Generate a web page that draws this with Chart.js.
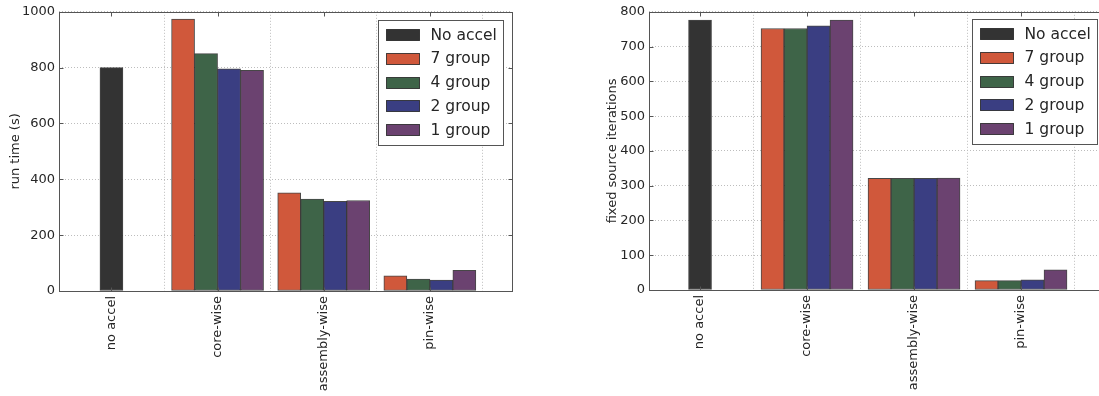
<!DOCTYPE html>
<html>
<head>
<meta charset="utf-8">
<script src="https://cdn.jsdelivr.net/npm/chart.js@4/dist/chart.umd.min.js"></script>
<style>
  html, body { margin: 0; padding: 0; background: #fff; width: 1099px; height: 396px; overflow: hidden; position: relative; }
  canvas { position: absolute; top: 0; }
  #runTime { left: 0; }
  #iterations { left: 560px; }
</style>
</head>
<body>
<canvas id="runTime" width="550" height="396"></canvas>
<canvas id="iterations" width="560" height="396"></canvas>
<script>
// Acceleration schemes along the x axis and the group structures compared
const categories = ['no accel', 'core-wise', 'assembly-wise', 'pin-wise'];
const seriesNames = ['No accel', '7 group', '4 group', '2 group', '1 group'];

// Run time in seconds
const runNoAccel = [800, null, null, null];
const run7group  = [null, 974, 352, 54];
const run4group  = [null, 850, 329, 43];
const run2group  = [null, 796, 321, 39];
const run1group  = [null, 790, 324, 74];
const runTicks   = [0, 200, 400, 600, 800, 1000];

// Number of fixed source iterations
const itNoAccel = [776, null, null, null];
const it7group  = [null, 752, 321, 27];
const it4group  = [null, 752, 321, 27];
const it2group  = [null, 760, 321, 29];
const it1group  = [null, 776, 322, 58];
const itTicks   = [0, 100, 200, 300, 400, 500, 600, 700, 800];

const seriesColors = ['#333333', '#d0583b', '#3e6448', '#3a3e82', '#6b4270'];
const FONT = 'DejaVu Sans';
const TEXT = '#262626';

// Box around the plot area with inward tick marks on all four sides
const framePlugin = {
  id: 'frame',
  afterDatasetsDraw(chart) {
    const { ctx, chartArea: a, scales } = chart;
    const L = Math.round(a.left) + 0.5, R = Math.round(a.right) + 0.5;
    const T = Math.round(a.top) + 0.5, B = Math.round(a.bottom) + 0.5;
    const len = 4;
    ctx.save();
    ctx.strokeStyle = '#555555';
    ctx.lineWidth = 1;
    ctx.beginPath();
    scales.y.ticks.forEach(t => {
      const y = Math.round(scales.y.getPixelForValue(t.value)) + 0.5;
      ctx.moveTo(L, y); ctx.lineTo(L + len, y);
      ctx.moveTo(R, y); ctx.lineTo(R - len, y);
    });
    scales.x.ticks.forEach(t => {
      const x = Math.round(scales.x.getPixelForValue(t.value)) + 0.5;
      ctx.moveTo(x, T); ctx.lineTo(x, T + len);
      ctx.moveTo(x, B); ctx.lineTo(x, B - len);
    });
    ctx.stroke();
    ctx.strokeRect(L, T, R - L, B - T);
    ctx.restore();
  }
};

// Boxed legend in the upper right corner of the plot area
const boxLegendPlugin = {
  id: 'boxLegend',
  afterDraw(chart, args, opts) {
    const { ctx, chartArea: a } = chart;
    const sets = chart.data.datasets;
    const size = 15.5;
    ctx.save();
    ctx.font = size + 'px "' + FONT + '"';
    const textW = Math.max(...sets.map(d => ctx.measureText(d.label).width));
    const padX = 7, swW = 33, swH = 11, gap = 12, rowH = 23.75, firstRow = 14;
    const w = Math.round(padX + swW + gap + textW + padX);
    const h = Math.round(firstRow + rowH * (sets.length - 1) + 16);
    const x0 = Math.round(a.right - opts.insetRight - w) + 0.5;
    const y0 = Math.round(a.top + opts.insetTop) + 0.5;
    ctx.fillStyle = '#ffffff';
    ctx.fillRect(x0, y0, w, h);
    ctx.strokeStyle = '#555555';
    ctx.lineWidth = 1;
    ctx.strokeRect(x0, y0, w, h);
    sets.forEach((d, i) => {
      const cy = y0 + firstRow + i * rowH;
      const sx = Math.round(x0 + padX) + 0.5, sy = Math.round(cy - swH / 2) + 0.5;
      ctx.fillStyle = d.backgroundColor;
      ctx.fillRect(sx, sy, swW, swH);
      ctx.strokeStyle = 'rgba(30,30,30,0.8)';
      ctx.strokeRect(sx, sy, swW, swH);
      ctx.fillStyle = TEXT;
      ctx.textBaseline = 'middle';
      ctx.textAlign = 'left';
      ctx.fillText(d.label, x0 + padX + swW + gap, cy + 1);
    });
    ctx.restore();
  }
};

function makeChart(id, cfg) {
  const datasets = cfg.series.map((vals, k) => ({
    label: seriesNames[k],
    data: categories.map((c, i) => ({ x: i, y: vals[i] })),
    backgroundColor: seriesColors[k],
    borderColor: 'rgba(25,25,25,0.8)',
    borderWidth: 1,
    borderSkipped: false,
    barThickness: 23,
    skipNull: true
  }));
  const gridCommon = { color: '#bdbdbd', lineWidth: 1, drawTicks: false };
  return new Chart(document.getElementById(id), {
    type: 'bar',
    data: { datasets },
    options: {
      responsive: false,
      animation: false,
      layout: { padding: { top: 10, right: cfg.padRight, left: 0, bottom: 0 } },
      plugins: {
        legend: { display: false },
        tooltip: { enabled: false },
        boxLegend: { insetRight: cfg.legendRight, insetTop: cfg.legendTop }
      },
      scales: {
        x: {
          type: 'linear',
          min: cfg.xMin,
          max: cfg.xMax,
          offset: false,
          afterBuildTicks: s => { s.ticks = categories.map((c, i) => ({ value: i })); },
          afterFit: s => { s.height = cfg.xHeight; },
          grid: gridCommon,
          border: { display: false, dash: [1, 2] },
          ticks: {
            callback: v => categories[v],
            minRotation: 90,
            maxRotation: 90,
            autoSkip: false,
            padding: 5,
            color: TEXT,
            font: { family: FONT, size: 13 }
          }
        },
        y: {
          type: 'linear',
          min: 0,
          max: cfg.yTicks[cfg.yTicks.length - 1],
          afterBuildTicks: s => { s.ticks = cfg.yTicks.map(v => ({ value: v })); },
          afterFit: s => { s.width = cfg.yWidth; },
          grid: gridCommon,
          border: { display: false, dash: [1, 2] },
          ticks: {
            callback: v => String(v),
            padding: 4,
            color: TEXT,
            font: { family: FONT, size: 13 }
          },
          title: {
            display: true,
            text: cfg.yTitle,
            color: TEXT,
            font: { family: FONT, size: 13 },
            padding: { top: cfg.titlePad, bottom: 0 }
          }
        }
      }
    },
    plugins: [framePlugin, boxLegendPlugin]
  });
}

makeChart('runTime', {
  series: [runNoAccel, run7group, run4group, run2group, run1group],
  yTicks: runTicks,
  yTitle: 'run time (s)',
  xMin: -0.494, xMax: 3.774,
  yWidth: 59, xHeight: 105, padRight: 38, titlePad: 7.5,
  legendRight: 9, legendTop: 8
});

makeChart('iterations', {
  series: [itNoAccel, it7group, it4group, it2group, it1group],
  yTicks: itTicks,
  yTitle: 'fixed source iterations',
  xMin: -0.477, xMax: 3.785,
  yWidth: 89, xHeight: 106, padRight: 15, titlePad: 45,
  legendRight: 8, legendTop: 7
});
</script>
</body>
</html>
